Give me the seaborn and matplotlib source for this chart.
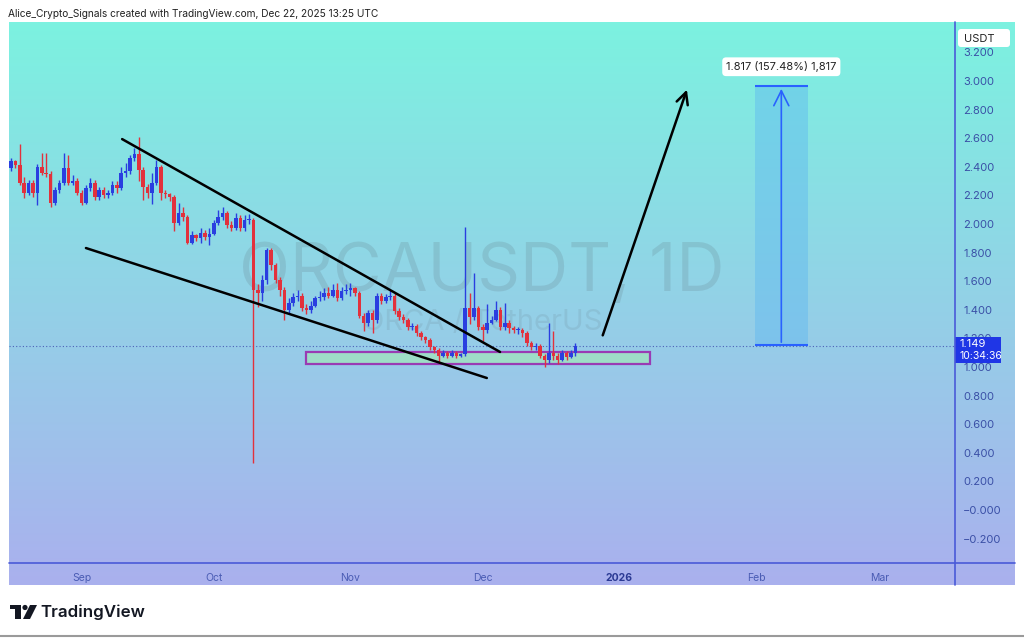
import numpy as np
import pandas as pd
import matplotlib
matplotlib.use("Agg")
import matplotlib.pyplot as plt
import matplotlib.dates as mdates
from matplotlib.patches import Rectangle, FancyBboxPatch, Polygon, Circle
import seaborn as sns

# ORCA/USDT daily candles, Aug 16 -> Dec 22 2025
START = "2025-08-16"
FIRST_OPEN = 2.39
closes = [2.44, 2.41, 2.29, 2.22, 2.29, 2.22, 2.40, 2.36, 2.35, 2.15,
          2.24, 2.29, 2.39, 2.29, 2.30, 2.22, 2.15, 2.25, 2.29, 2.19,
          2.24, 2.20, 2.22, 2.27, 2.25, 2.36, 2.37, 2.46, 2.49, 2.38,
          2.26, 2.22, 2.29, 2.40, 2.22, 2.21, 2.19, 2.01, 2.08, 2.05,
          1.87, 1.92, 1.90, 1.94, 1.91, 1.93, 2.01, 2.05, 2.08, 1.99,
          1.97, 2.04, 1.97, 2.03, 2.03, 1.54, 1.52, 1.61, 1.82, 1.71,
          1.61, 1.54, 1.40, 1.45, 1.49, 1.50, 1.41, 1.40, 1.43, 1.48,
          1.49, 1.52, 1.50, 1.54, 1.48, 1.53, 1.54, 1.55, 1.52, 1.36,
          1.31, 1.38, 1.33, 1.50, 1.46, 1.49, 1.50, 1.39, 1.35, 1.33,
          1.28, 1.29, 1.24, 1.21, 1.19, 1.14, 1.12, 1.08, 1.10, 1.08,
          1.10, 1.08, 1.09, 1.41, 1.35, 1.41, 1.28, 1.26, 1.31, 1.33,
          1.40, 1.28, 1.31, 1.27, 1.26, 1.26, 1.24, 1.17, 1.14, 1.15,
          1.08, 1.05, 1.10, 1.08, 1.05, 1.10, 1.07, 1.10, 1.149]
highs = [2.46, 2.45, 2.56, 2.33, 2.31, 2.31, 2.42, 2.50, 2.50, 2.37,
         2.26, 2.31, 2.50, 2.48, 2.34, 2.32, 2.24, 2.27, 2.32, 2.31,
         2.26, 2.26, 2.24, 2.30, 2.30, 2.40, 2.43, 2.48, 2.53, 2.61,
         2.40, 2.28, 2.36, 2.45, 2.41, 2.24, 2.22, 2.20, 2.15, 2.12,
         2.06, 1.95, 1.93, 1.97, 1.96, 1.97, 2.03, 2.10, 2.12, 2.09,
         2.02, 2.08, 2.06, 2.06, 2.07, 2.04, 1.58, 1.64, 1.83, 1.83,
         1.73, 1.63, 1.56, 1.48, 1.52, 1.54, 1.52, 1.44, 1.46, 1.50,
         1.53, 1.55, 1.56, 1.58, 1.59, 1.56, 1.58, 1.59, 1.56, 1.53,
         1.38, 1.40, 1.40, 1.52, 1.52, 1.51, 1.54, 1.52, 1.41, 1.37,
         1.34, 1.31, 1.30, 1.25, 1.22, 1.20, 1.15, 1.13, 1.12, 1.11,
         1.12, 1.11, 1.10, 1.98, 1.52, 1.66, 1.43, 1.30, 1.44, 1.36,
         1.46, 1.42, 1.45, 1.33, 1.29, 1.28, 1.27, 1.25, 1.18, 1.17,
         1.16, 1.09, 1.31, 1.25, 1.10, 1.12, 1.11, 1.12, 1.17]
lows = [2.37, 2.39, 2.27, 2.18, 2.20, 2.19, 2.13, 2.34, 2.33, 2.12,
        2.13, 2.22, 2.27, 2.27, 2.27, 2.20, 2.13, 2.14, 2.23, 2.17,
        2.17, 2.18, 2.18, 2.20, 2.22, 2.24, 2.33, 2.35, 2.44, 2.30,
        2.17, 2.18, 2.14, 2.27, 2.17, 2.18, 2.16, 1.95, 1.99, 2.02,
        1.86, 1.86, 1.88, 1.87, 1.89, 1.85, 1.92, 1.99, 2.03, 1.97,
        1.95, 1.96, 1.95, 1.95, 2.00, 0.33, 1.42, 1.46, 1.58, 1.68,
        1.59, 1.50, 1.33, 1.38, 1.43, 1.46, 1.39, 1.37, 1.38, 1.42,
        1.46, 1.47, 1.48, 1.49, 1.46, 1.47, 1.51, 1.50, 1.50, 1.34,
        1.25, 1.29, 1.24, 1.31, 1.44, 1.45, 1.47, 1.37, 1.33, 1.31,
        1.26, 1.26, 1.22, 1.19, 1.17, 1.12, 1.10, 1.03, 1.07, 1.06,
        1.07, 1.06, 1.07, 1.08, 1.30, 1.33, 1.26, 1.18, 1.24, 1.30,
        1.32, 1.26, 1.26, 1.24, 1.24, 1.23, 1.21, 1.15, 1.12, 1.12,
        1.06, 1.00, 1.03, 1.05, 1.02, 1.04, 1.05, 1.06, 1.08]

LAST_PRICE = 1.149
PRICE_TICKS = [-0.2, 0.0, 0.2, 0.4, 0.6, 0.8, 1.0, 1.2, 1.4, 1.6, 1.8,
               2.0, 2.2, 2.4, 2.6, 2.8, 3.0, 3.2]
MONTH_TICKS = ["2025-09-01", "2025-10-01", "2025-11-01", "2025-12-01",
               "2026-01-01", "2026-02-01", "2026-03-01"]
MONTH_LABELS = ["Sep", "Oct", "Nov", "Dec", "2026", "Feb", "Mar"]

# drawings: (date, price)
wedge_top = [("2025-09-10 05:00", 2.594), ("2025-12-04 22:00", 1.105)]
wedge_bottom = [("2025-09-02 00:00", 1.832), ("2025-12-01 22:00", 0.923)]
breakout_arrow = [("2025-12-28 00:00", 1.203), ("2026-01-16 12:00", 2.958)]
support_box = [("2025-10-21 22:00", 1.021), ("2026-01-07 22:00", 1.105)]
target_box = [("2026-01-31 17:00", 1.154), ("2026-02-12 17:00", 2.965)]
TARGET_TEXT = "1.817 (157.48%) 1,817"

UP, DOWN = "#2a3ee0", "#e2313c"
W, H = 1024, 638

sns.set_theme(style="white")
plt.rcParams["font.family"] = ["Inter", "DejaVu Sans"]

dates = pd.date_range(START, periods=len(closes), freq="D")
x = mdates.date2num(dates)
c = np.array(closes)
o = np.r_[FIRST_OPEN, c[:-1]]
hi = np.array(highs)
lo = np.array(lows)
up = c >= o
colors = np.where(up, UP, DOWN)


def d(s):
    return mdates.date2num(pd.Timestamp(s))


def fig_box(l, t, r, b):
    return [l / W, 1 - b / H, (r - l) / W, (b - t) / H]


fig = plt.figure(figsize=(W / 100, H / 100), dpi=100)
fig.patch.set_facecolor("white")

# gradient background of the whole chart pane
bg = fig.add_axes(fig_box(9, 22, 1015, 585), zorder=0)
top_c = np.array([124, 242, 224]) / 255
bot_c = np.array([170, 176, 238]) / 255
t = np.linspace(0, 1, 256)[:, None, None]
grad = top_c * (1 - t) + bot_c * t
bg.imshow(np.repeat(grad, 2, axis=1), aspect="auto", extent=[0, 1, 0, 1])
bg.set_axis_off()

ax = fig.add_axes(fig_box(9, 22, 955, 563), zorder=1)
ax.set_facecolor("none")
x0 = x[0]
ax.set_xlim(x0 - 0.45, x0 + 214.1)
ax.set_ylim(-0.371, 3.413)

# watermark
ax.text(0.5, 0.535, "ORCAUSDT, 1D", transform=ax.transAxes, ha="center",
        va="center", fontsize=48, color="#5f7480", alpha=0.2, zorder=0.5)
ax.text(0.5, 0.445, "ORCA / TetherUS", transform=ax.transAxes, ha="center",
        va="center", fontsize=21, color="#5f7480", alpha=0.15, zorder=0.5)

# candles
ax.vlines(x, lo, hi, colors=colors, lw=1, zorder=3)
body = np.maximum(np.abs(c - o), 0.008)
ax.bar(x, body, bottom=np.minimum(o, c), width=0.8, color=colors,
       linewidth=0, zorder=4)

ax.axhline(LAST_PRICE, color="#4d62b8", lw=0.8, ls=(0, (1, 2)), zorder=2)

# trend lines
for seg in (wedge_top, wedge_bottom):
    ax.plot([d(p[0]) for p in seg], [p[1] for p in seg], color="black",
            lw=1.8, zorder=5, solid_capstyle="round")
(a0, a1) = breakout_arrow
ax.annotate("", xy=(d(a1[0]), a1[1]), xytext=(d(a0[0]), a0[1]),
            arrowprops=dict(arrowstyle="->,head_length=0.7,head_width=0.35",
                            color="black", lw=1.8), zorder=5)

# support zone
(s0, s1) = support_box
ax.add_patch(Rectangle((d(s0[0]), s0[1]), d(s1[0]) - d(s0[0]), s1[1] - s0[1],
                       facecolor="#9fe0c4", edgecolor="#9a2ab0", lw=1.6,
                       alpha=0.9, zorder=2.5))

# price range projection
(p0, p1) = target_box
bx0, bx1 = d(p0[0]), d(p1[0])
ax.add_patch(Rectangle((bx0, p0[1]), bx1 - bx0, p1[1] - p0[1],
                       facecolor="#5fb8f0", alpha=0.45, lw=0, zorder=2))
ax.hlines([p0[1], p1[1]], bx0, bx1, color="#2962ff", lw=1.5, zorder=3)
ax.annotate("", xy=((bx0 + bx1) / 2, p1[1]), xytext=((bx0 + bx1) / 2, p0[1]),
            arrowprops=dict(arrowstyle="->,head_length=0.9,head_width=0.45",
                            color="#2962ff", lw=1.2), zorder=3)
ax.text((bx0 + bx1) / 2, 3.10, TARGET_TEXT, ha="center", va="center",
        fontsize=8, color="#222222", zorder=6,
        bbox=dict(boxstyle="round,pad=0.35", fc="white", ec="none"))

# axes
ax.yaxis.tick_right()
ax.set_yticks(PRICE_TICKS)
ax.set_yticklabels([("\u2212" if v <= 0 else "") + f"{abs(v):.3f}"
                    for v in PRICE_TICKS])
ax.tick_params(axis="y", length=0, pad=6, labelsize=8, labelcolor="#3a4fa6")
ax.set_xticks([d(m) for m in MONTH_TICKS])
ax.set_xticklabels(MONTH_LABELS)
ax.tick_params(axis="x", length=0, pad=7, labelsize=7.5, labelcolor="#4a5cb4")
for lab in ax.get_xticklabels():
    if lab.get_text() == "2026":
        lab.set_fontweight("bold")
        lab.set_color("#2b3a94")
sns.despine(ax=ax, left=True, bottom=True)
ax.grid(False)

# pixel overlay for frame, labels and footer
ov = fig.add_axes([0, 0, 1, 1], zorder=3)
ov.set_xlim(0, W)
ov.set_ylim(H, 0)
ov.set_axis_off()
ov.plot([9, 1015], [563, 563], color="#4a5ad8", lw=1.2)
ov.plot([955, 955], [22, 585], color="#4a5ad8", lw=1.2)
ov.add_patch(FancyBboxPatch((958, 29), 52, 18, boxstyle="round,pad=0,rounding_size=3",
                            fc="white", ec="none"))
ov.text(964, 38.5, "USDT", fontsize=8, color="#222222", va="center")
ov.add_patch(Rectangle((955, 337), 46, 26, fc="#1f36e6", ec="none"))
ov.text(960, 344, f"{LAST_PRICE:.3f}", fontsize=8, color="white", va="center")
ov.text(960, 356, "10:34:36", fontsize=7.5, color="white", va="center")

fig.text(8 / W, 1 - 14 / H, "Alice_Crypto_Signals created with TradingView.com, "
         "Dec 22, 2025 13:25 UTC", fontsize=7.3, color="#222222", va="center")

# TradingView logo
ov.add_patch(Rectangle((10, 605), 11, 4, fc="#131722", ec="none"))
ov.add_patch(Rectangle((15, 605), 6, 14, fc="#131722", ec="none"))
ov.add_patch(Circle((25, 607.5), 2.6, fc="#131722", ec="none"))
ov.add_patch(Polygon([(30, 605), (37, 605), (30, 619), (23, 619)],
                     fc="#131722", ec="none"))
ov.text(40, 612, "TradingView", fontsize=12.2, fontweight="semibold",
        color="#131722", va="center")
ov.plot([0, W], [636, 636], color="#9a9a9a", lw=1.5)

fig.savefig("out.png", dpi=100)
